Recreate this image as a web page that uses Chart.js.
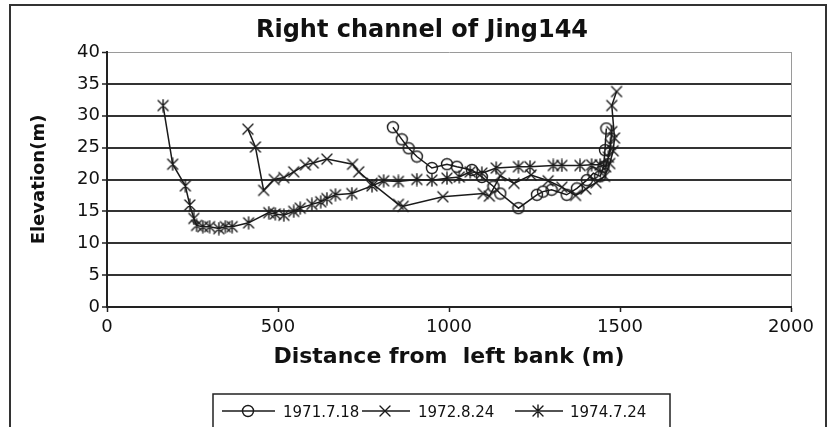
<!DOCTYPE html>
<html>
<head>
<meta charset="utf-8">
<script src="https://cdn.jsdelivr.net/npm/chart.js@4.4.1/dist/chart.umd.min.js"></script>
<style>
  html, body { margin: 0; padding: 0; background: #fff; }
  #wrap { width: 830px; height: 427px; position: relative; }
</style>
</head>
<body>
<div id="wrap"><canvas id="c" width="830" height="427"></canvas></div>
<script>
// Cross-section survey of the right channel, three dates
const chartTitle = 'Right channel of Jing144';
const xAxisTitle = 'Distance from  left bank (m)';
const yAxisTitle = 'Elevation(m)';
const seriesNames = ['1971.7.18', '1972.8.24', '1974.7.24'];
const xTicks = [0, 500, 1000, 1500, 2000];
const yTicks = [0, 5, 10, 15, 20, 25, 30, 35, 40];

const dist1971 = [836, 862, 882, 906, 950, 994, 1023, 1067, 1096, 1130, 1150, 1203, 1257, 1275, 1300, 1344, 1374, 1403, 1422, 1442, 1452, 1456, 1460];
const elev1971 = [28.2, 26.3, 24.9, 23.6, 21.8, 22.4, 22.0, 21.5, 20.4, 18.9, 17.8, 15.5, 17.6, 18.1, 18.4, 17.6, 18.6, 19.9, 21.0, 20.5, 22.0, 24.6, 28.0];

const dist1972 = [412, 434, 458, 489, 517, 546, 580, 603, 643, 718, 736, 775, 852, 866, 982, 1100, 1118, 1150, 1190, 1240, 1290, 1330, 1370, 1400, 1430, 1455, 1470, 1480, 1484, 1476, 1490];
const elev1972 = [27.9, 25.1, 18.3, 20.0, 20.3, 21.2, 22.3, 22.6, 23.2, 22.4, 21.2, 19.4, 16.1, 15.8, 17.3, 17.8, 17.4, 20.6, 19.4, 20.7, 19.8, 18.8, 17.5, 18.5, 19.5, 20.5, 22.5, 24.5, 26.5, 31.6, 33.8];

const dist1974 = [164, 192, 229, 242, 254, 262, 280, 300, 327, 346, 366, 414, 473, 492, 517, 546, 565, 599, 625, 643, 668, 716, 775, 809, 852, 906, 950, 994, 1030, 1062, 1096, 1138, 1203, 1237, 1305, 1330, 1383, 1417, 1442, 1458, 1466, 1472, 1476];
const elev1974 = [31.6, 22.4, 19.0, 16.0, 13.9, 12.8, 12.6, 12.6, 12.3, 12.6, 12.6, 13.2, 14.8, 14.6, 14.4, 15.0, 15.5, 16.1, 16.5, 17.0, 17.6, 17.8, 19.0, 19.8, 19.7, 20.0, 19.9, 20.2, 20.4, 21.2, 21.0, 21.8, 22.0, 22.0, 22.2, 22.2, 22.2, 22.3, 22.3, 22.0, 23.5, 25.5, 27.5];

const ink = '#1a1a1a';
Chart.defaults.font.family = "'DejaVu Sans', sans-serif";
Chart.defaults.color = '#111';

// Marker glyphs: open circle, X, and asterisk (X with a vertical stroke)
function makeMarker(kind) {
  const s = 14, c = document.createElement('canvas');
  c.width = s; c.height = s;
  const g = c.getContext('2d');
  g.strokeStyle = ink; g.lineWidth = 1.4; g.lineCap = 'round';
  const m = s / 2;
  g.beginPath();
  if (kind === 'circle') {
    g.arc(m, m, 5.5, 0, Math.PI * 2);
  } else {
    g.moveTo(m - 5, m - 5); g.lineTo(m + 5, m + 5);
    g.moveTo(m + 5, m - 5); g.lineTo(m - 5, m + 5);
    if (kind === 'star') { g.moveTo(m, m - 6); g.lineTo(m, m + 6); }
  }
  g.stroke();
  return c;
}
const markers = [makeMarker('circle'), makeMarker('x'), makeMarker('star')];

function toPoints(xs, ys) { return xs.map((x, i) => ({ x: x, y: ys[i] })); }

function series(i, xs, ys) {
  return {
    label: seriesNames[i],
    data: toPoints(xs, ys),
    showLine: true,
    borderColor: ink,
    borderWidth: 1.5,
    backgroundColor: 'rgba(0,0,0,0)',
    pointStyle: markers[i],
    pointRadius: 6,
    tension: 0
  };
}

// Outer frame, chart title and the boxed legend along the bottom
const decorations = {
  id: 'decorations',
  afterDraw(chart) {
    const ctx = chart.ctx;
    ctx.save();
    ctx.strokeStyle = '#333';
    ctx.lineWidth = 2;
    ctx.strokeRect(10, 5, 816, 440);

    ctx.fillStyle = '#111';
    ctx.font = "bold 24px 'DejaVu Sans', sans-serif";
    ctx.textAlign = 'center';
    ctx.textBaseline = 'alphabetic';
    ctx.fillText(chartTitle, 422, 37);

    ctx.lineWidth = 1.5;
    ctx.strokeStyle = '#222';
    ctx.strokeRect(213, 394, 457, 50);

    const entries = [
      { x0: 222, x1: 275, mx: 248, tx: 283 },
      { x0: 362, x1: 410, mx: 385, tx: 418 },
      { x0: 515, x1: 563, mx: 538, tx: 570 }
    ];
    const ly = 411;
    ctx.font = "15px 'DejaVu Sans', sans-serif";
    ctx.textAlign = 'left';
    entries.forEach((e, i) => {
      ctx.strokeStyle = ink;
      ctx.lineWidth = 1.5;
      ctx.beginPath();
      ctx.moveTo(e.x0, ly); ctx.lineTo(e.x1, ly);
      ctx.stroke();
      const mk = markers[i];
      ctx.drawImage(mk, e.mx - mk.width / 2, ly - mk.height / 2);
      ctx.fillText(seriesNames[i], e.tx, ly + 6);
    });
    ctx.restore();
  }
};

new Chart(document.getElementById('c'), {
  type: 'scatter',
  data: {
    datasets: [
      series(0, dist1971, elev1971),
      series(1, dist1972, elev1972),
      series(2, dist1974, elev1974)
    ]
  },
  options: {
    responsive: false,
    devicePixelRatio: 1,
    animation: false,
    layout: { padding: { left: 0, right: 39, top: 52, bottom: 50 } },
    plugins: {
      legend: { display: false },
      title: { display: false },
      tooltip: { enabled: false }
    },
    scales: {
      x: {
        type: 'linear',
        min: 0,
        max: 2000,
        afterBuildTicks: s => { s.ticks = xTicks.map(v => ({ value: v })); },
        afterFit: s => { s.height = 70; },
        ticks: {
          font: { size: 18 }, color: '#111', padding: 5, maxRotation: 0, autoSkip: false,
          callback: v => String(v)
        },
        grid: {
          color: c => (c.tick && c.tick.value === 2000) ? '#9a9a9a' : 'rgba(0,0,0,0)',
          lineWidth: 1,
          tickColor: '#222',
          tickLength: 5,
          tickWidth: 1.5
        },
        border: { color: '#222', width: 2 },
        title: {
          display: true,
          text: xAxisTitle,
          font: { size: 22, weight: 'bold' },
          color: '#111',
          padding: { top: 0, bottom: 7 }
        }
      },
      y: {
        min: 0,
        max: 40,
        afterBuildTicks: s => { s.ticks = yTicks.map(v => ({ value: v })); },
        afterFit: s => { s.width = 107; },
        ticks: { font: { size: 18 }, color: '#111', padding: 2, callback: v => String(v) },
        grid: {
          color: c => (c.tick && c.tick.value === 40) ? '#9a9a9a' : '#333',
          lineWidth: c => (c.tick && c.tick.value === 40) ? 1 : 2,
          tickColor: '#222',
          tickLength: 5,
          tickWidth: 1.5
        },
        border: { color: '#222', width: 2 },
        title: {
          display: true,
          text: yAxisTitle,
          font: { size: 18, weight: 'bold' },
          color: '#111',
          padding: { top: 29, bottom: 0 }
        }
      }
    }
  },
  plugins: [decorations]
});
</script>
</body>
</html>
